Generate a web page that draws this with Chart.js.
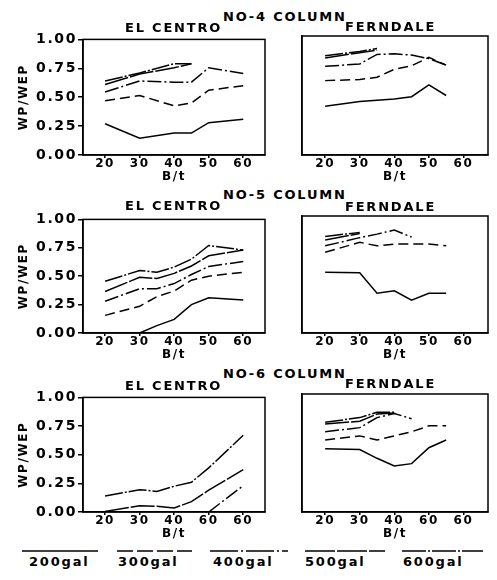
<!DOCTYPE html>
<html>
<head>
<meta charset="utf-8">
<script src="https://cdn.jsdelivr.net/npm/chart.js@4.4.1/dist/chart.umd.min.js"></script>
<style>
  body { margin: 0; background: #fff; }
  #page { position: relative; width: 497px; height: 580px; overflow: hidden; }
  #page canvas { position: absolute; }
  .lbl { position: absolute; font: bold 13px "DejaVu Sans", sans-serif; letter-spacing: 1.8px; line-height: 13px; color: #000; white-space: nowrap; z-index: 2; }
  #key { position: absolute; left: 0; top: 546px; }
</style>
</head>
<body>
<div id="page">
  <canvas id="ec4" width="267" height="155" style="left:0;top:30px"></canvas>
  <canvas id="fe4" width="194" height="155" style="left:296px;top:30px"></canvas>
  <canvas id="ec5" width="267" height="153" style="left:0;top:210px"></canvas>
  <canvas id="fe5" width="194" height="153" style="left:296px;top:210px"></canvas>
  <canvas id="ec6" width="267" height="154" style="left:0;top:388px"></canvas>
  <canvas id="fe6" width="194" height="154" style="left:296px;top:388px"></canvas>

  <div class="lbl" style="left:223px;top:10px">NO-4 COLUMN</div>
  <div class="lbl" style="left:125px;top:21px">EL CENTRO</div>
  <div class="lbl" style="left:345px;top:20px">FERNDALE</div>
  <div class="lbl" style="left:223px;top:188px">NO-5 COLUMN</div>
  <div class="lbl" style="left:125px;top:199px">EL CENTRO</div>
  <div class="lbl" style="left:345px;top:200px">FERNDALE</div>
  <div class="lbl" style="left:223px;top:367px">NO-6 COLUMN</div>
  <div class="lbl" style="left:125px;top:379px">EL CENTRO</div>
  <div class="lbl" style="left:345px;top:377px">FERNDALE</div>

  <svg id="key" width="497" height="10">
    <g stroke="#000" stroke-width="1.5">
      <line x1="22" y1="5" x2="98" y2="5"/>
      <line x1="117" y1="5" x2="192" y2="5" stroke-dasharray="16 4"/>
      <line x1="210" y1="5" x2="288" y2="5" stroke-dasharray="28 3 2 3"/>
      <line x1="305" y1="5" x2="385" y2="5" stroke-dasharray="30 2"/>
      <line x1="402" y1="5" x2="483" y2="5" stroke-dasharray="24 2 2 2"/>
    </g>
  </svg>
  <div class="lbl" style="left:29px;top:555px">200gal</div>
  <div class="lbl" style="left:118px;top:555px">300gal</div>
  <div class="lbl" style="left:213px;top:555px">400gal</div>
  <div class="lbl" style="left:305px;top:555px">500gal</div>
  <div class="lbl" style="left:403px;top:555px">600gal</div>
</div>

<script>
// ticks
const btTicks = [20, 30, 40, 50, 60];
const btLabels = ['20', '30', '40', '50', '60'];
const btLabelsNo6 = ['20', '30', '40', '60', '60'];
const ratioTicks = [0, 0.25, 0.5, 0.75, 1];

// === NO-4, El Centro ===
const ec4X = [20, 30, 40, 45, 50, 60];
const ec4g200 = [0.27, 0.145, 0.19, 0.19, 0.28, 0.31];
const ec4g300 = [0.47, 0.515, 0.425, 0.45, 0.56, 0.60];
const ec4g400 = [0.545, 0.64, 0.63, 0.63, 0.755, 0.705];
const ec4XUp = [20, 30, 40, 45];
const ec4g500 = [0.61, 0.70, 0.755, 0.79];
const ec4g600 = [0.64, 0.71, 0.79, 0.79];

// === NO-4, Ferndale ===
const fe4X = [20, 30, 35, 40, 45, 50, 55];
const fe4g200 = [0.41, 0.45, 0.46, 0.47, 0.49, 0.59, 0.50];
const fe4g300 = [0.625, 0.634, 0.654, 0.72, 0.75, 0.82, 0.755];
const fe4g400 = [0.745, 0.765, 0.845, 0.85, 0.84, 0.81, 0.755];
const fe4XUp = [20, 30, 35];
const fe4g500 = [0.815, 0.86, 0.88];
const fe4g600 = [0.835, 0.87, 0.895];

// === NO-5, El Centro ===
const ec5X = [20, 30, 35, 40, 45, 50, 60];
const ec5X200 = [30, 35, 40, 45, 50, 60];
const ec5g200 = [0.0, 0.065, 0.12, 0.25, 0.31, 0.29];
const ec5g300 = [0.155, 0.235, 0.32, 0.37, 0.465, 0.50, 0.535];
const ec5g400 = [0.28, 0.39, 0.39, 0.435, 0.515, 0.585, 0.63];
const ec5g500 = [0.365, 0.49, 0.48, 0.525, 0.59, 0.68, 0.73];
const ec5g600 = [0.455, 0.55, 0.535, 0.58, 0.65, 0.77, 0.73];

// === NO-5, Ferndale ===
const fe5X = [20, 30, 35, 40, 45, 50, 55];
const fe5g200 = [0.52, 0.515, 0.34, 0.36, 0.28, 0.34, 0.34];
const fe5g300 = [0.69, 0.775, 0.745, 0.76, 0.76, 0.76, 0.745];
const fe5X400 = [20, 30, 35, 40, 45];
const fe5g400 = [0.745, 0.815, 0.845, 0.88, 0.82];
const fe5XUp = [20, 30];
const fe5g500 = [0.795, 0.85];
const fe5g600 = [0.825, 0.86];

// === NO-6, El Centro ===
const ec6X = [20, 30, 35, 40, 45, 50, 60];
const ec6g600 = [0.14, 0.195, 0.18, 0.225, 0.26, 0.385, 0.67];
const ec6g500 = [0.005, 0.055, 0.05, 0.035, 0.09, 0.19, 0.37];
const ec6X400 = [50, 60];
const ec6g400 = [0.0, 0.23];

// === NO-6, Ferndale ===
const fe6X = [20, 30, 35, 40, 45, 50, 55];
const fe6g200 = [0.535, 0.53, 0.455, 0.39, 0.41, 0.545, 0.61];
const fe6g300 = [0.61, 0.645, 0.61, 0.645, 0.68, 0.73, 0.73];
const fe6X400 = [20, 30, 35, 40, 45];
const fe6g400 = [0.68, 0.715, 0.80, 0.835, 0.79];
const fe6XUp = [20, 30, 35, 40];
const fe6g500 = [0.745, 0.77, 0.83, 0.84];
const fe6g600 = [0.76, 0.80, 0.845, 0.845];

// line styles per input level
const dash200 = [];
const dash300 = [10, 5];
const dash400 = [14, 3, 2, 3];
const dash500 = [24, 2];
const dash600 = [18, 2, 2, 2];

Chart.defaults.font.family = '"DejaVu Sans", sans-serif';
Chart.defaults.font.weight = 'bold';
Chart.defaults.color = '#000';

// the old plotter lettering is wide
const spacing = {
  id: 'spacing',
  beforeDraw(chart) { chart.ctx.letterSpacing = '1.6px'; }
};

// closed box round each plot
const frame = {
  id: 'frame',
  afterDraw(chart) {
    const { ctx, chartArea: a } = chart;
    ctx.save();
    ctx.strokeStyle = '#000';
    ctx.lineWidth = 1.5;
    ctx.strokeRect(a.left, a.top, a.right - a.left, a.bottom - a.top);
    ctx.restore();
  }
};

function series(xs, ys, dash) {
  return {
    data: xs.map((x, i) => ({ x: x, y: ys[i] })),
    borderColor: '#000',
    borderWidth: 1.5,
    borderDash: dash,
    pointRadius: 0,
    tension: 0,
    fill: false
  };
}

function panel(id, sets, tickLabels, left) {
  const el = document.getElementById(id);
  new Chart(el, {
    type: 'line',
    data: { datasets: sets },
    options: {
      responsive: false,
      animation: false,
      layout: { padding: { top: 6, right: 2, left: 0, bottom: 0 } },
      plugins: { legend: { display: false }, tooltip: { enabled: false } },
      scales: {
        x: {
          type: 'linear',
          min: left ? 13.6 : 13.3,
          max: left ? 66.3 : 67.1,
          afterBuildTicks: s => { s.ticks = btTicks.map(v => ({ value: v })); },
          afterFit: s => { s.height = 30; },
          ticks: {
            callback: (v, i) => tickLabels[i],
            font: { size: 12, lineHeight: 1 },
            padding: 0,
            maxRotation: 0,
            autoSkip: false
          },
          grid: { drawOnChartArea: false, tickLength: 3, color: '#000', lineWidth: 1.5 },
          border: { color: '#000', width: 1.5 },
          title: { display: true, text: 'B/t', font: { size: 12 }, padding: { top: 0, bottom: 1 } }
        },
        y: {
          min: 0,
          max: 1,
          afterBuildTicks: s => { s.ticks = ratioTicks.map(v => ({ value: v })); },
          afterFit: s => { s.width = left ? 83 : 6; },
          ticks: {
            display: left,
            callback: v => v.toFixed(2),
            font: { size: 14 },
            padding: 1
          },
          grid: { drawOnChartArea: false, drawTicks: left, tickLength: 5, color: '#000', lineWidth: 1.5 },
          border: { color: '#000', width: 1.5 },
          title: { display: left, text: 'WP/WEP', font: { size: 12 }, padding: { top: 17, bottom: 0 } }
        }
      }
    },
    plugins: [spacing, frame]
  });
}

panel('ec4', [
  series(ec4X, ec4g200, dash200),
  series(ec4X, ec4g300, dash300),
  series(ec4X, ec4g400, dash400),
  series(ec4XUp, ec4g500, dash500),
  series(ec4XUp, ec4g600, dash600)
], btLabels, true);

panel('fe4', [
  series(fe4X, fe4g200, dash200),
  series(fe4X, fe4g300, dash300),
  series(fe4X, fe4g400, dash400),
  series(fe4XUp, fe4g500, dash500),
  series(fe4XUp, fe4g600, dash600)
], btLabels, false);

panel('ec5', [
  series(ec5X200, ec5g200, dash200),
  series(ec5X, ec5g300, dash300),
  series(ec5X, ec5g400, dash400),
  series(ec5X, ec5g500, dash500),
  series(ec5X, ec5g600, dash600)
], btLabels, true);

panel('fe5', [
  series(fe5X, fe5g200, dash200),
  series(fe5X, fe5g300, dash300),
  series(fe5X400, fe5g400, dash400),
  series(fe5XUp, fe5g500, dash500),
  series(fe5XUp, fe5g600, dash600)
], btLabels, false);

panel('ec6', [
  series(ec6X400, ec6g400, dash400),
  series(ec6X, ec6g500, dash500),
  series(ec6X, ec6g600, dash600)
], btLabelsNo6, true);

panel('fe6', [
  series(fe6X, fe6g200, dash200),
  series(fe6X, fe6g300, dash300),
  series(fe6X400, fe6g400, dash400),
  series(fe6XUp, fe6g500, dash500),
  series(fe6XUp, fe6g600, dash600)
], btLabelsNo6, false);
</script>
</body>
</html>
